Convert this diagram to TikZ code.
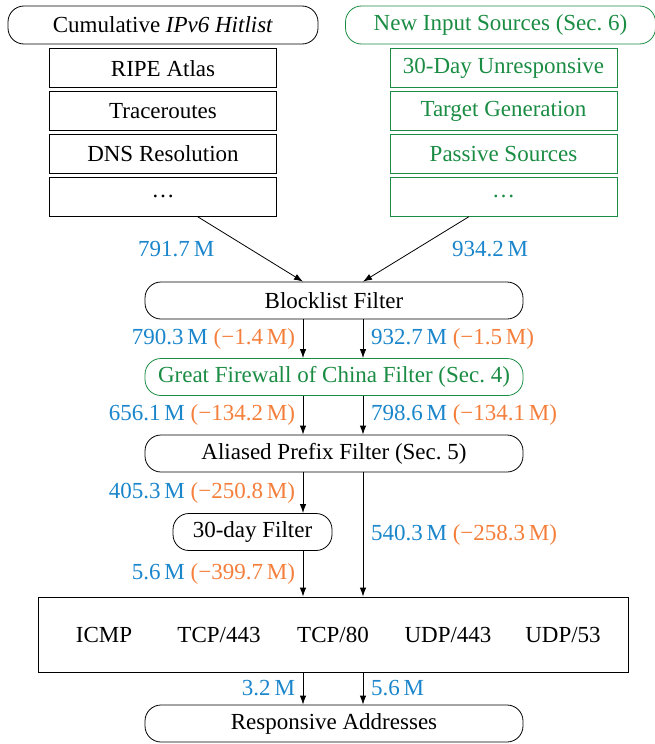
\documentclass[tikz,border=0pt]{standalone}
\usepackage{fontspec}
\setmainfont{Liberation Serif}
\usepackage{tikz}
\usetikzlibrary{positioning,arrows.meta}
\definecolor{numblue}{HTML}{1B86CB}
\definecolor{lossorange}{HTML}{F47F3C}
\definecolor{newgreen}{HTML}{1A8C43}
\newcommand{\Mio}[1]{#1\,M}

\begin{document}
\begin{tikzpicture}[x=0.5pt, y=-0.5pt, >={Latex[length=4.5pt, width=3.2pt]},
		font=\fontsize{11.5}{13}\selectfont,
		head/.style={draw, rounded corners=8pt, minimum width=155pt, minimum height=19pt, inner sep=0pt},
		srcbox/.style={draw, minimum width=113.5pt, minimum height=19.5pt, inner sep=0pt},
		stage/.style={draw, rounded corners=8pt, minimum width=189pt, minimum height=18.5pt, inner sep=0pt},
		newsrc/.style={draw=newgreen, text=newgreen},
		count/.style={text=numblue, inner sep=3.8pt},
		loss/.style={text=lossorange}]
		\useasboundingbox (0,0) rectangle (654,744);

		% Define nodes
		\node[head] (hitlist) at (163,25) {Cumulative \textit{IPv6 Hitlist}};
		\node[srcbox, below=2pt of hitlist] (ripe) {RIPE Atlas};
		\node[srcbox, below=1.5pt of ripe] (trace) {Traceroutes};
		\node[srcbox, below=1.5pt of trace] (dns) {DNS Resolution};
		\node[srcbox, below=1.5pt of dns] (dotsL) {\dots};

		\node[head, newsrc] (newin) at (500.5,25) {New Input Sources (Sec.~6)};
		\node[srcbox, newsrc, below=2pt of newin, xshift=1.5pt] (unresp) {30-Day Unresponsive};
		\node[srcbox, newsrc, below=1.5pt of unresp] (tgen) {Target Generation};
		\node[srcbox, newsrc, below=1.5pt of tgen] (passive) {Passive Sources};
		\node[srcbox, newsrc, below=1.5pt of passive] (dotsR) {\dots};

		\node[stage] (block) at (334,300.5) {Blocklist Filter};
		\node[stage, newsrc] (gfw) at (334,377) {Great Firewall of China Filter (Sec.~4)};
		\node[stage] (alias) at (334,453.5) {Aliased Prefix Filter (Sec.~5)};
		\node[stage, minimum width=79.5pt] (day30) at (252.5,532) {30-day Filter};
		\node[draw, minimum width=295pt, minimum height=37.5pt] (probe) at (333,634.5) {};
		\node (icmp) at (104,635) {ICMP};
		\node (tcp443) at (219,635) {TCP/443};
		\node (tcp80) at (333,635) {TCP/80};
		\node (udp443) at (448,635) {UDP/443};
		\node (udp53) at (563,635) {UDP/53};
		\node[stage] (resp) at (334,723.5) {Responsive Addresses};

		\coordinate (laneA) at (303,0);
		\coordinate (laneB) at (363,0);

		% Connect the nodes
		\draw[->] (dotsL.-30) -- node[count, midway, left=14pt] {\Mio{791.7}} (block.north -| laneA);
		\draw[->] (dotsR.210) -- node[count, midway, right=14pt] {\Mio{934.2}} (block.north -| laneB);

		\draw[->] (block.south -| laneA) -- node[count, midway, left] {\Mio{790.3} \textcolor{lossorange}{(−\Mio{1.4})}} (gfw.north -| laneA);
		\draw[->] (block.south -| laneB) -- node[count, midway, right] {\Mio{932.7} \textcolor{lossorange}{(−\Mio{1.5})}} (gfw.north -| laneB);

		\draw[->] (gfw.south -| laneA) -- node[count, midway, left] {\Mio{656.1} \textcolor{lossorange}{(−\Mio{134.2})}} (alias.north -| laneA);
		\draw[->] (gfw.south -| laneB) -- node[count, midway, right] {\Mio{798.6} \textcolor{lossorange}{(−\Mio{134.1})}} (alias.north -| laneB);

		\draw[->] (alias.south -| laneA) -- node[count, midway, left] {\Mio{405.3} \textcolor{lossorange}{(−\Mio{250.8})}} (day30.north -| laneA);
		\draw[->] (day30.south -| laneA) -- node[count, midway, left] {\Mio{5.6} \textcolor{lossorange}{(−\Mio{399.7})}} (probe.north -| laneA);
		\draw[->] (alias.south -| laneB) -- node[count, midway, right] {\Mio{540.3} \textcolor{lossorange}{(−\Mio{258.3})}} (probe.north -| laneB);

		\draw[->] (probe.south -| laneA) -- node[count, midway, left] {\Mio{3.2}} (resp.north -| laneA);
		\draw[->] (probe.south -| laneB) -- node[count, midway, right] {\Mio{5.6}} (resp.north -| laneB);
	\end{tikzpicture}
\end{document}
